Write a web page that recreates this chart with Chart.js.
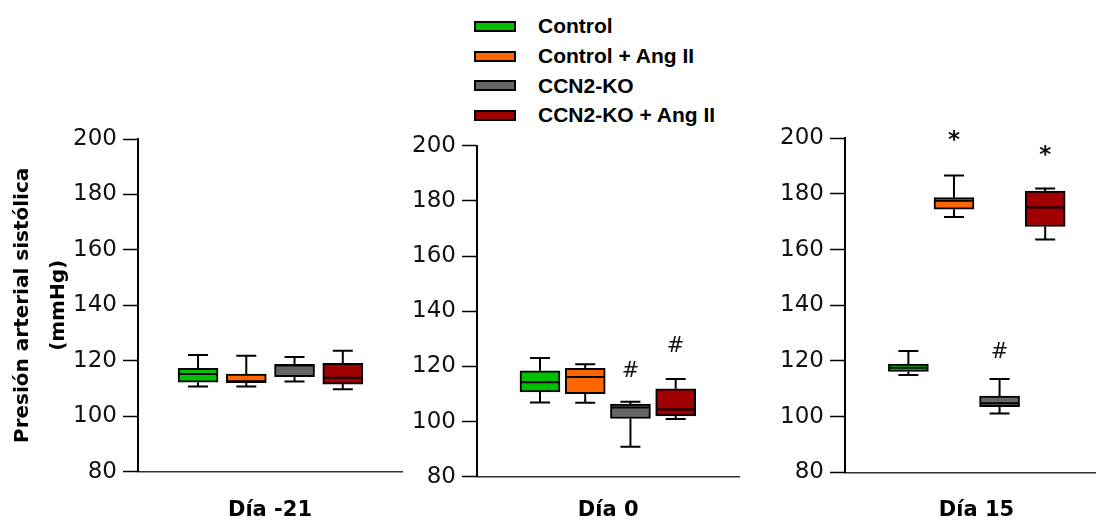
<!DOCTYPE html>
<html><head><meta charset="utf-8">
<script src="https://cdn.jsdelivr.net/npm/chart.js@4.4.1/dist/chart.umd.min.js"></script>
<style>
html,body{margin:0;padding:0;background:#fff;overflow:hidden;width:1096px;height:521px;position:relative;}
canvas{position:absolute;top:0;}
#legend{position:absolute;left:474px;top:0;font:bold 21px "Liberation Sans",Arial,sans-serif;color:#000;}
.item{position:absolute;left:0;white-space:nowrap;height:30px;display:flex;align-items:center;}
.sw{width:38px;height:7px;border:2px solid #000;margin-right:22px;}
</style></head>
<body>
<div id="legend"></div>
<canvas id="p1" width="410" height="521" style="left:0px"></canvas>
<canvas id="p2" width="340" height="521" style="left:405px"></canvas>
<canvas id="p3" width="350" height="521" style="left:760px"></canvas>
<script>
// ---- data ----
const groups = ['Control', 'Control + Ang II', 'CCN2-KO', 'CCN2-KO + Ang II'];
const groupColors = ['#00C000', '#FF6600', '#666666', '#A00000'];
const days = ['Día -21', 'Día 0', 'Día 15'];
const yTicks = [80, 100, 120, 140, 160, 180, 200];
const yTitle = ['Presión arterial sistólica', '(mmHg)'];

// Día -21
const minD21 = [110.7, 110.7, 112.5, 109.7];
const q1D21  = [112.3, 112.1, 114.3, 111.6];
const medD21 = [115.2, 112.6, 118.3, 113.9];
const q3D21  = [117.3, 115.2, 118.7, 119.1];
const maxD21 = [122.1, 121.8, 121.4, 123.6];
const sigLabD21 = ['', '', '', ''];
const sigValD21 = [null, null, null, null];

// Día 0
const minD0 = [106.9, 106.8, 90.9, 100.9];
const q1D0  = [110.7, 110.1, 101.1, 102.0];
const medD0 = [114.2, 116.1, 105.1, 104.4];
const q3D0  = [118.4, 119.3, 106.3, 111.9];
const maxD0 = [123.0, 120.8, 107.2, 115.4];
const sigLabD0 = ['', '', '#', '#'];
const sigValD0 = [null, null, 118.9, 128.0];

// Día 15
const minD15 = [115.0, 171.7, 101.1, 163.6];
const q1D15  = [116.2, 174.5, 103.6, 168.3];
const medD15 = [117.6, 177.6, 104.8, 175.1];
const q3D15  = [118.9, 178.7, 107.4, 181.0];
const maxD15 = [123.6, 186.6, 113.5, 182.0];
const sigLabD15 = ['', '*', '#', '*'];
const sigValD15 = [null, 200.9, 124.0, 195.7];

// ---- legend ----
const legend = document.getElementById('legend');
const legendRows = [26, 56, 85.5, 115];
groups.forEach((g, i) => {
  const it = document.createElement('div');
  it.className = 'item';
  it.style.top = (legendRows[i] - 15) + 'px';
  const sw = document.createElement('div');
  sw.className = 'sw';
  sw.style.background = groupColors[i];
  const tx = document.createElement('span');
  tx.textContent = g;
  it.appendChild(sw); it.appendChild(tx);
  legend.appendChild(it);
});

// ---- panels ----
function makePanel(canvasId, dayIdx, st, layout) {
  const whiskers = {
    id: 'whiskers' + dayIdx,
    afterDatasetsDraw(chart) {
      const {ctx} = chart;
      const xs = chart.scales.x, ys = chart.scales.y;
      const meta = chart.getDatasetMeta(0);
      ctx.save();
      ctx.strokeStyle = '#000';
      ctx.lineWidth = 2;
      st.med.forEach((m, i) => {
        const bar = meta.data[i];
        const cx = xs.getPixelForValue(i);
        const half = bar.width / 2;
        const cap = half / 2;
        const pMin = ys.getPixelForValue(st.min[i]);
        const pQ1 = ys.getPixelForValue(st.q1[i]);
        const pMed = ys.getPixelForValue(m);
        const pQ3 = ys.getPixelForValue(st.q3[i]);
        const pMax = ys.getPixelForValue(st.max[i]);
        ctx.beginPath();
        ctx.moveTo(cx, pQ3); ctx.lineTo(cx, pMax);
        ctx.moveTo(cx - cap, pMax); ctx.lineTo(cx + cap, pMax);
        ctx.moveTo(cx, pQ1); ctx.lineTo(cx, pMin);
        ctx.moveTo(cx - cap, pMin); ctx.lineTo(cx + cap, pMin);
        ctx.stroke();
        ctx.beginPath();
        ctx.moveTo(cx - half + 1, pMed); ctx.lineTo(cx + half - 1, pMed);
        ctx.stroke();
        const lab = st.sigLab[i];
        if (lab) {
          ctx.fillStyle = '#111';
          ctx.font = lab === '*' ? 'bold 23px "DejaVu Sans"' : '21px "DejaVu Sans"';
          ctx.textAlign = 'center';
          ctx.textBaseline = 'alphabetic';
          const mt = ctx.measureText(lab);
          const py = ys.getPixelForValue(st.sigVal[i]);
          ctx.fillText(lab, cx, py + (mt.actualBoundingBoxAscent - mt.actualBoundingBoxDescent) / 2);
        }
      });
      ctx.restore();
    }
  };
  return new Chart(document.getElementById(canvasId), {
    type: 'bar',
    data: {
      datasets: [{
        data: st.q1.map((v, i) => ({x: i, y: [v, st.q3[i]]})),
        backgroundColor: groupColors,
        borderColor: '#000',
        borderWidth: 2,
        borderSkipped: false,
        barThickness: 40
      }]
    },
    options: {
      responsive: false,
      devicePixelRatio: 1,
      animation: false,
      events: [],
      layout: {padding: {left: 0, top: layout.top, right: layout.right, bottom: 0}},
      plugins: {legend: {display: false}, tooltip: {enabled: false}},
      scales: {
        x: {
          type: 'linear',
          min: layout.xMin, max: layout.xMax,
          ticks: {display: false},
          grid: {display: false},
          border: {display: true, color: '#333', width: 1.5},
          title: {display: true, text: days[dayIdx], color: '#000',
                  font: {family: 'DejaVu Sans', weight: 'bold', size: 21, lineHeight: 1.0},
                  padding: 0},
          afterFit: s => { s.height = layout.xh; }
        },
        y: {
          min: yTicks[0], max: yTicks[yTicks.length - 1],
          ticks: {stepSize: yTicks[1] - yTicks[0], color: '#111', padding: 6,
                  font: {family: 'DejaVu Sans', size: 23}},
          grid: {drawOnChartArea: false, drawTicks: true, tickLength: 15, tickColor: '#000', tickWidth: 1.5},
          border: {display: true, color: '#000', width: 2},
          title: {display: layout.showTitle, text: yTitle, color: '#000',
                  font: {family: 'DejaVu Sans', weight: 'bold', size: 20, lineHeight: 1.8},
                  padding: {top: 5, bottom: 0}},
          afterFit: s => { s.width = layout.yw; }
        }
      }
    },
    plugins: [whiskers]
  });
}

makePanel('p1', 0,
  {min: minD21, q1: q1D21, med: medD21, q3: q3D21, max: maxD21, sigLab: sigLabD21, sigVal: sigValD21},
  {top: 139, right: 8, xh: 49.3, yw: 138, xMin: -0.697, xMax: 3.68, showTitle: true});
makePanel('p2', 1,
  {min: minD0, q1: q1D0, med: medD0, q3: q3D0, max: maxD0, sigLab: sigLabD0, sigVal: sigValD0},
  {top: 145.7, right: 5.7, xh: 44.3, yw: 72, xMin: -0.668, xMax: 3.682, showTitle: false});
makePanel('p3', 2,
  {min: minD15, q1: q1D15, med: medD15, q3: q3D15, max: maxD15, sigLab: sigLabD15, sigVal: sigValD15},
  {top: 138.3, right: 2, xh: 48.7, yw: 85, xMin: -0.669, xMax: 3.657, showTitle: false});
</script>
</body></html>
